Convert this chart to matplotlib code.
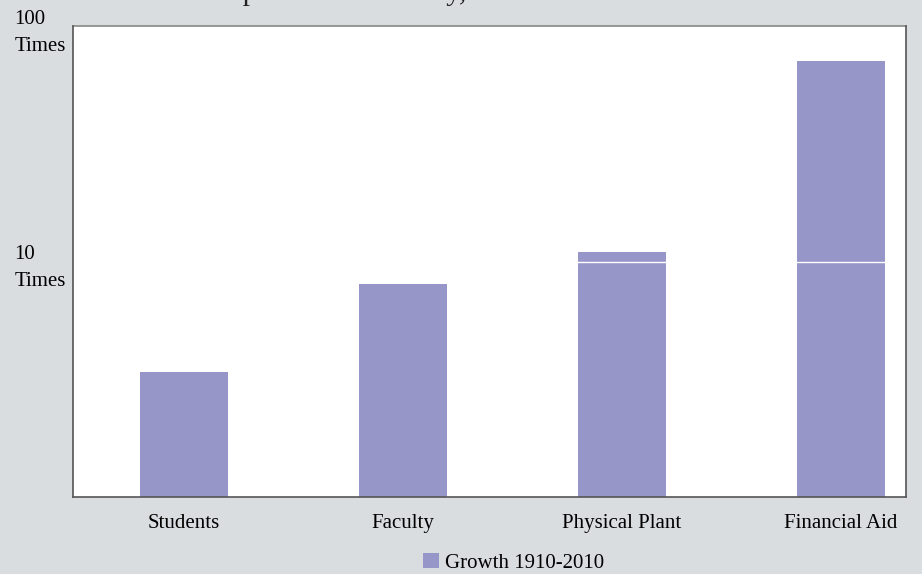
import matplotlib
matplotlib.use('Agg')
import matplotlib.pyplot as plt
from matplotlib.ticker import NullLocator
import numpy as np

categories = ['Students', 'Faculty', 'Physical Plant', 'Financial Aid']
growth = [3.4, 8.0, 11.0, 71.0]
series_label = 'Growth 1910-2010'
ytick_values = [10, 100]
ytick_labels = ['10\nTimes', '100\nTimes']
title = 'Growth Compared with Faculty, 1910-2010'

bar_color = '#9696c8'
bg = '#d9dde0'

plt.rcParams['font.family'] = ['Liberation Serif', 'DejaVu Serif']

fig = plt.figure(figsize=(9.22, 5.74), dpi=100, facecolor=bg)
ax = fig.add_axes([73 / 922, 1 - 497 / 574, 833 / 922, 471 / 574])
ax.set_facecolor('white')

x = np.arange(len(categories))
ax.bar(x, growth, width=0.40, color=bar_color, label=series_label, zorder=2)
ax.axhline(10, color='white', lw=1, zorder=3)

ax.set_yscale('log')
ax.set_ylim(1, 100)
ax.set_xlim(-0.507, 3.297)
ax.yaxis.set_minor_locator(NullLocator())
ax.set_yticks(ytick_values, labels=ytick_labels)
for lbl in ax.get_yticklabels():
    lbl.set_horizontalalignment('left')
    lbl.set_linespacing(1.6)
ax.tick_params(axis='y', length=0, pad=42, labelsize=15)
ax.set_xticks(x, labels=categories)
ax.tick_params(axis='x', length=0, pad=12, labelsize=15)

for side in ['left', 'bottom', 'right']:
    ax.spines[side].set_color('#555555')
    ax.spines[side].set_linewidth(1.2)
    ax.spines[side].set_zorder(4)
ax.spines['top'].set_color('#888888')
ax.spines['top'].set_linewidth(1.2)

fig.text(90 / 922, 1.0, title, fontsize=21, va='baseline', ha='left', color='#222222')

fig.legend(loc='center', bbox_to_anchor=(514 / 922, 1 - 563 / 574), frameon=False,
           fontsize=15, handlelength=0.75, handleheight=0.75, handletextpad=0.3)

fig.savefig('out.png', dpi=100, facecolor=bg)
